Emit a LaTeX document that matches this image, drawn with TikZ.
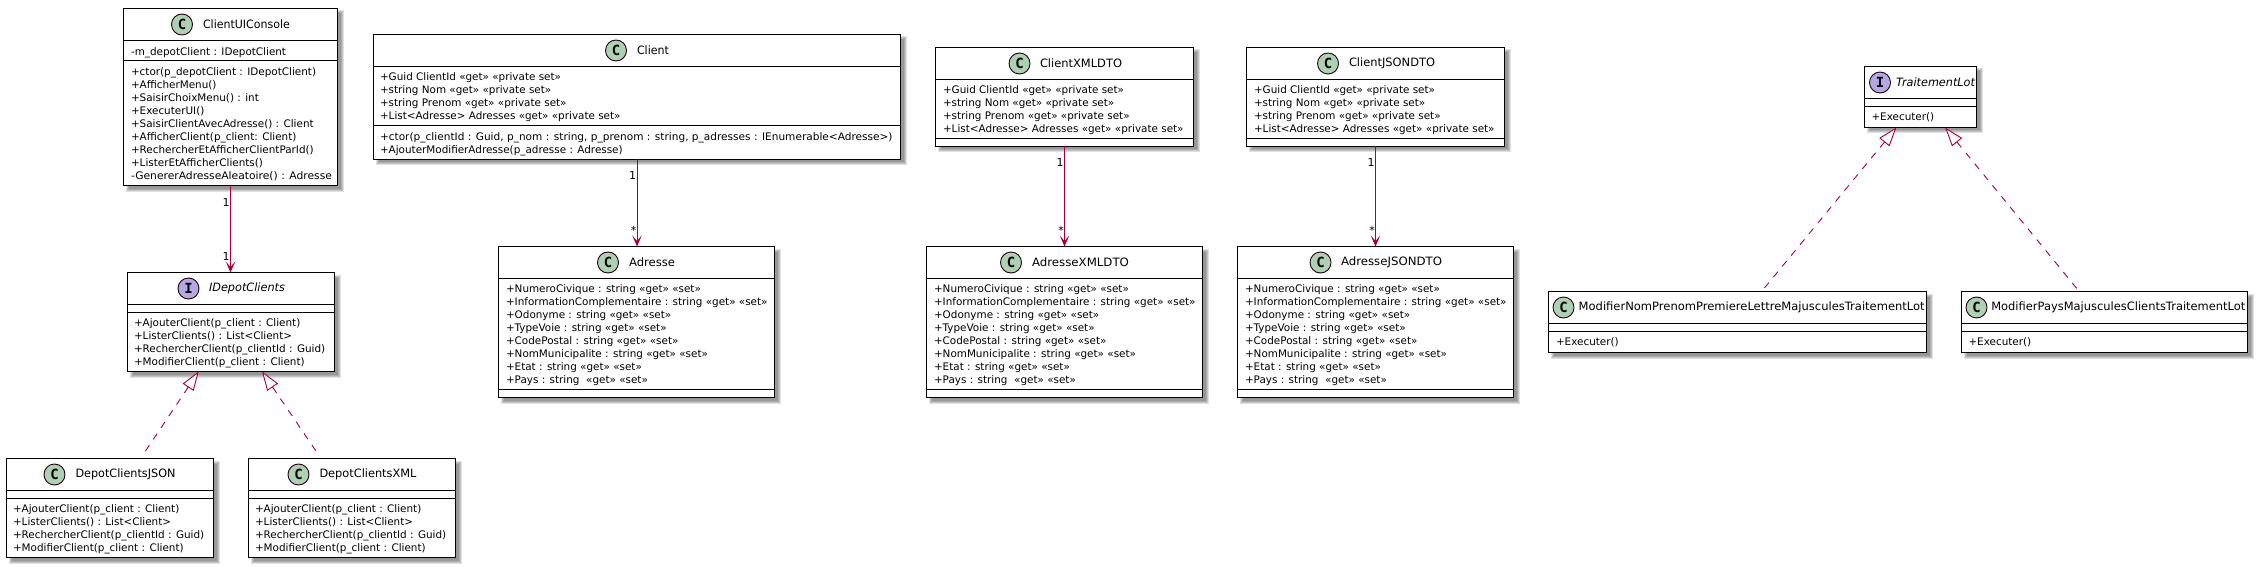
\documentclass[tikz,border=0pt]{standalone}
\usepackage{fontspec}
\setmainfont{DejaVu Sans}
\newfontfamily\spotfont{DejaVu Sans Mono}
\usetikzlibrary{arrows.meta,calc}
\definecolor{umlred}{HTML}{A80036}
\definecolor{spotC}{HTML}{ADD1B2}
\definecolor{spotI}{HTML}{B4A7E5}
\tikzset{
  x=1pt,y=-1pt,
  umlbox/.style={draw=black,line width=1.4pt,fill=white,inner sep=0pt,outer sep=0pt,anchor=north west},
  shadowlayer/.style={fill=black,opacity=.12},
  divider/.style={draw=black,line width=1.2pt},
  members/.style={anchor=north west,inner sep=0pt,outer sep=0pt,align=left,text=black,yshift=-3pt,
    font=\fontsize{10.4}{13}\selectfont},
  spotc/.style={circle,draw=black!80!umlred,line width=.9pt,fill=spotC,minimum size=21pt,inner sep=0pt,
    font=\spotfont\bfseries\fontsize{14}{14}\selectfont},
  spoti/.style={spotc,fill=spotI},
  cname/.style={anchor=west,inner sep=0pt,outer sep=0pt,font=\fontsize{11.5}{13}\selectfont},
  iname/.style={cname,font=\itshape\fontsize{11.5}{13}\selectfont},
  mult/.style={inner sep=0pt,outer sep=0pt,anchor=center,font=\fontsize{11}{13}\selectfont},
  assoc/.style={draw=umlred,line width=1pt,-{Stealth[length=11pt,width=9.5pt,inset=5.5pt]}},
  real/.style={draw=umlred,line width=.9pt,dash pattern=on 7pt off 7pt,
    {Triangle[open,fill=white,length=19pt,width=13pt]}-},
}
% name, left, top, right, bottom, header y, divider y
\newcommand{\umlframe}[7]{%
  \foreach \e in {0,1,2,3}{\fill[shadowlayer] (#2+2+\e,#3+2+\e) rectangle (#4+6-\e,#5+6-\e);}
  \node[umlbox,minimum width=#4pt-#2pt,minimum height=#5pt-#3pt] (#1) at (#2,#3) {};
  \draw[divider] (#2,#6) -- (#4,#6);
  \draw[divider] (#2,#7) -- (#4,#7);
}
\newcommand{\W}[2]{\resizebox{#1pt}{\height}{#2}}
\begin{document}
\begin{tikzpicture}
\useasboundingbox (0,0) rectangle (2257,567);

% ---- ClientUIConsole
\umlframe{cui}{123.5}{8.5}{337.5}{185.5}{40.5}{60.5}
\node[spotc] (cuiS) at (182,24.5) {C};
\node[cname] (cuiN) at (203,24.5) {\W{87}{ClientUIConsole}};
\node[members] (cuiA) at (131,44.5) {-m\_depotClient : IDepotClient};
\node[members] (cuiM) at (131,65) {+ctor(p\_depotClient : IDepotClient)\\+AfficherMenu()\\+SaisirChoixMenu() : int\\+ExecuterUI()\\+SaisirClientAvecAdresse() : Client\\+AfficherClient(p\_client: Client)\\+RechercherEtAfficherClientParId()\\+ListerEtAfficherClients()\\\W{201}{-GenererAdresseAleatoire() : Adresse}};

% ---- IDepotClients
\umlframe{idc}{127.5}{272.5}{334.5}{371.5}{304.5}{312.5}
\node[spoti] (idcS) at (188.5,288.5) {I};
\node[iname] (idcN) at (209,288.5) {\W{76}{IDepotClients}};
\node[members] (idcM) at (134,316) {+AjouterClient(p\_client : Client)\\+ListerClients() : List<Client>\\+RechercherClient(p\_clientId : Guid)\\+ModifierClient(p\_client : Client)};

% ---- DepotClientsJSON
\umlframe{djs}{6.5}{458.5}{213.5}{557.5}{490.5}{498.5}
\node[spotc] (djsS) at (54.5,474.5) {C};
\node[cname] (djsN) at (75.5,474.5) {\W{100}{DepotClientsJSON}};
\node[members] (djsM) at (13,502) {+AjouterClient(p\_client : Client)\\+ListerClients() : List<Client>\\+RechercherClient(p\_clientId : Guid)\\+ModifierClient(p\_client : Client)};

% ---- DepotClientsXML
\umlframe{dxm}{248.5}{458.5}{455.5}{557.5}{490.5}{498.5}
\node[spotc] (dxmS) at (298.5,474.5) {C};
\node[cname] (dxmN) at (319.5,474.5) {\W{97}{DepotClientsXML}};
\node[members] (dxmM) at (255,502) {+AjouterClient(p\_client : Client)\\+ListerClients() : List<Client>\\+RechercherClient(p\_clientId : Guid)\\+ModifierClient(p\_client : Client)};

% ---- Client
\umlframe{cli}{373.5}{34.5}{900.5}{159.5}{66.5}{125.5}
\node[spotc] (cliS) at (616,50.5) {C};
\node[cname] (cliN) at (637,50.5) {\W{32}{Client}};
\node[members] (cliA) at (380,70) {+Guid ClientId «get» «private set»\\+string Nom «get» «private set»\\+string Prenom «get» «private set»\\+List<Adresse> Adresses «get» «private set»};
\node[members] (cliM) at (380,129.5) {\W{512.5}{+ctor(p\_clientId : Guid, p\_nom : string, p\_prenom : string, p\_adresses : IEnumerable<Adresse>)}\\+AjouterModifierAdresse(p\_adresse : Adresse)};

% ---- Adresse
\umlframe{adr}{498.5}{246.5}{774.5}{397.5}{278.5}{389.5}
\node[spotc] (adrS) at (608,262.5) {C};
\node[cname] (adrN) at (629,262.5) {\W{46}{Adresse}};
\node[members] (adrA) at (506,282) {+NumeroCivique : string «get» «set»\\+InformationComplementaire : string «get» «set»\\+Odonyme : string «get» «set»\\+TypeVoie : string «get» «set»\\+CodePostal : string «get» «set»\\+NomMunicipalite : string «get» «set»\\+Etat : string «get» «set»\\+Pays : string~ «get» «set»};

% ---- ClientXMLDTO
\umlframe{cxd}{935.5}{47.5}{1193.5}{146.5}{79.5}{138.5}
\node[spotc] (cxdS) at (1019.5,63.5) {C};
\node[cname] (cxdN) at (1040,63.5) {\W{82}{ClientXMLDTO}};
\node[members] (cxdA) at (943,83) {+Guid ClientId «get» «private set»\\+string Nom «get» «private set»\\+string Prenom «get» «private set»\\+List<Adresse> Adresses «get» «private set»};

% ---- ClientJSONDTO
\umlframe{cjd}{1246.5}{47.5}{1504.5}{146.5}{79.5}{138.5}
\node[spotc] (cjdS) at (1328,63.5) {C};
\node[cname] (cjdN) at (1349,63.5) {\W{86}{ClientJSONDTO}};
\node[members] (cjdA) at (1254,83) {+Guid ClientId «get» «private set»\\+string Nom «get» «private set»\\+string Prenom «get» «private set»\\+List<Adresse> Adresses «get» «private set»};

% ---- AdresseXMLDTO
\umlframe{axd}{926.5}{246.5}{1202.5}{397.5}{278.5}{389.5}
\node[spotc] (axdS) at (1011,262.5) {C};
\node[cname] (axdN) at (1032,262.5) {\W{97}{AdresseXMLDTO}};
\node[members] (axdA) at (934,282) {+NumeroCivique : string «get» «set»\\+InformationComplementaire : string «get» «set»\\+Odonyme : string «get» «set»\\+TypeVoie : string «get» «set»\\+CodePostal : string «get» «set»\\+NomMunicipalite : string «get» «set»\\+Etat : string «get» «set»\\+Pays : string~ «get» «set»};

% ---- AdresseJSONDTO
\umlframe{ajd}{1237.5}{246.5}{1513.5}{397.5}{278.5}{389.5}
\node[spotc] (ajdS) at (1320.5,262.5) {C};
\node[cname] (ajdN) at (1341,262.5) {\W{101}{AdresseJSONDTO}};
\node[members] (ajdA) at (1245,282) {+NumeroCivique : string «get» «set»\\+InformationComplementaire : string «get» «set»\\+Odonyme : string «get» «set»\\+TypeVoie : string «get» «set»\\+CodePostal : string «get» «set»\\+NomMunicipalite : string «get» «set»\\+Etat : string «get» «set»\\+Pays : string~ «get» «set»};

% ---- TraitementLot
\umlframe{tl}{1864.5}{66.5}{1976.5}{127.5}{98.5}{106.5}
\node[spoti] (tlS) at (1880,82.5) {I};
\node[iname] (tlN) at (1896,82.5) {\W{79}{TraitementLot}};
\node[members] (tlM) at (1871.5,110) {+Executer()};

% ---- ModifierNom...
\umlframe{mn}{1548.5}{291.5}{1926.5}{352.5}{323.5}{331.5}
\node[spotc] (mnS) at (1563.5,307.5) {C};
\node[cname] (mnN) at (1578.7,307.5) {\W{346}{ModifierNomPrenomPremiereLettreMajusculesTraitementLot}};
\node[members] (mnM) at (1556,335) {+Executer()};

% ---- ModifierPays...
\umlframe{mp}{1961.5}{291.5}{2247.5}{352.5}{323.5}{331.5}
\node[spotc] (mpS) at (1976.5,307.5) {C};
\node[cname] (mpN) at (1991.3,307.5) {\W{254}{ModifierPaysMajusculesClientsTraitementLot}};
\node[members] (mpM) at (1968.5,335) {+Executer()};

% ---- connectors
\draw[assoc] (cui.south) -- (cui.south |- idc.north)
  node[mult,pos=0,xshift=-4.5pt,yshift=-16.5pt] (l1a) {1}
  node[mult,pos=1,xshift=-4.5pt,yshift=16.5pt] (l1b) {1};
\draw[assoc] (cli.south) -- (cli.south |- adr.north)
  node[mult,pos=0,xshift=-4.5pt,yshift=-16pt] (l2a) {1}
  node[mult,pos=1,xshift=-3.5pt,yshift=16pt] (l2b) {*};
\draw[assoc] (cxd.south) -- (cxd.south |- axd.north)
  node[mult,pos=0,xshift=-4.5pt,yshift=-16pt] (l3a) {1}
  node[mult,pos=1,xshift=-3.5pt,yshift=16pt] (l3b) {*};
\draw[assoc] (cjd.south) -- (cjd.south |- ajd.north)
  node[mult,pos=0,xshift=-4.5pt,yshift=-16pt] (l4a) {1}
  node[mult,pos=1,xshift=-3.5pt,yshift=16pt] (l4b) {*};
\draw[real] ([xshift=-32.3pt]idc.south) -- ([xshift=34.5pt,yshift=6pt]djs.north);
\draw[real] ([xshift=31pt]idc.south) -- ([xshift=-35pt,yshift=6pt]dxm.north);
\draw[real] ([xshift=-24.1pt]tl.south) -- ([xshift=25.7pt,yshift=2pt]mn.north);
\draw[real] ([xshift=24.6pt]tl.south) -- ([xshift=-26.9pt,yshift=2pt]mp.north);
\end{tikzpicture}
\end{document}
